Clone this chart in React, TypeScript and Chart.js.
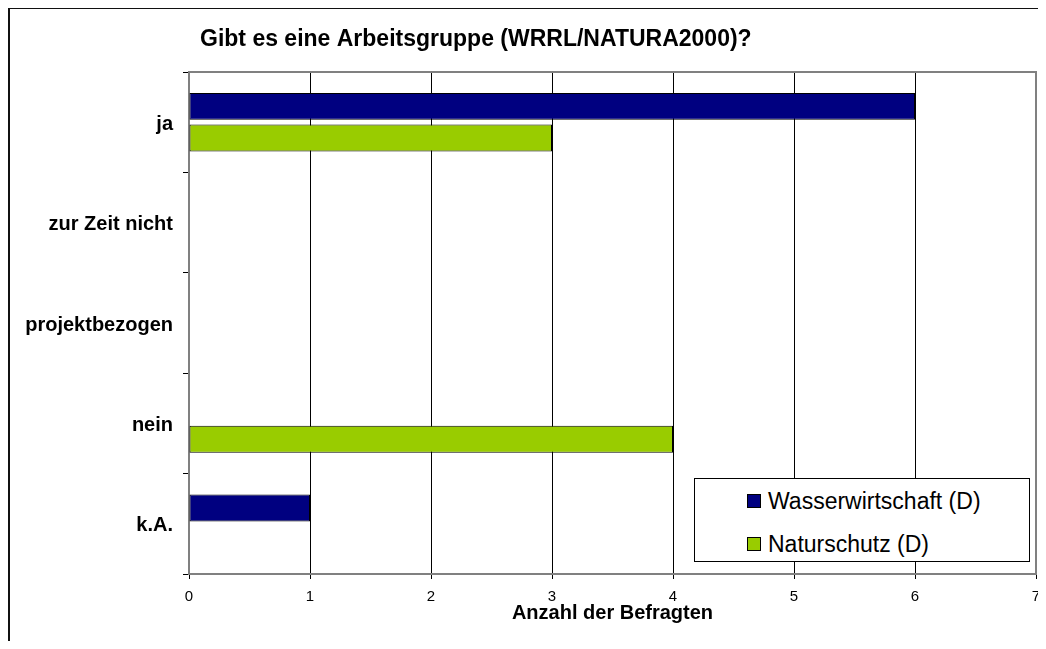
import React, { useEffect, useRef } from "react";
import { Chart, registerables } from "chart.js";

Chart.register(...registerables);

const TITLE = "Gibt es eine Arbeitsgruppe (WRRL/NATURA2000)?";
const X_TITLE = "Anzahl der Befragten";
const CATEGORIES = ["ja", "zur Zeit nicht", "projektbezogen", "nein", "k.A."];
const SERIES_NAMES = ["Wasserwirtschaft (D)", "Naturschutz (D)"];
const WASSER = [6, 0, 0, 0, 1];
const NATUR = [3, 0, 0, 4, 0];
const COLORS = ["#000080", "#99CC00"];
const X_MIN = 0;
const X_MAX = 7;

const FONT = '"Liberation Sans", Arial, sans-serif';

const W = 1046;
const H = 649;

const frame = {
  id: "frame",
  afterDatasetsDraw(chart: any) {
    const { ctx, chartArea } = chart;
    ctx.save();
    ctx.strokeStyle = "#808080";
    ctx.lineWidth = 2;
    ctx.beginPath();
    ctx.moveTo(chartArea.left, chartArea.top);
    ctx.lineTo(chartArea.right, chartArea.top);
    ctx.lineTo(chartArea.right, chartArea.bottom);
    ctx.stroke();
    ctx.restore();
  },
  afterDraw(chart: any) {
    const { ctx } = chart;
    ctx.save();
    ctx.fillStyle = "#000";
    ctx.font = `bold 23px ${FONT}`;
    ctx.textBaseline = "alphabetic";
    ctx.textAlign = "left";
    ctx.fillText(TITLE, 200, 46);
    ctx.restore();
  },
};

export default function App() {
  const ref = useRef<HTMLCanvasElement | null>(null);

  useEffect(() => {
    if (!ref.current) return;
    const barOpts = {
      borderColor: "#000",
      borderWidth: (c: any) => (c.raw ? 1 : 0),
      borderSkipped: false,
      categoryPercentage: 0.63,
      barPercentage: 0.85,
    };
    const chart = new Chart(ref.current, {
      type: "bar",
      data: {
        labels: CATEGORIES,
        datasets: [
          { label: SERIES_NAMES[0], data: WASSER, backgroundColor: COLORS[0], ...barOpts },
          { label: SERIES_NAMES[1], data: NATUR, backgroundColor: COLORS[1], ...barOpts },
        ],
      },
      options: {
        indexAxis: "y",
        responsive: false,
        animation: false,
        layout: { padding: { top: 72, right: 10, left: 0, bottom: 0 } },
        plugins: {
          legend: { display: false },
          title: { display: false },
          tooltip: { enabled: false },
        },
        scales: {
          x: {
            min: X_MIN,
            max: X_MAX,
            afterFit: (s: any) => {
              s.height = 75;
              s.paddingLeft = 0;
              s.paddingRight = 0;
            },
            ticks: {
              stepSize: 1,
              color: "#000",
              font: { family: FONT, size: 15 },
              padding: 9,
            },
            grid: {
              color: "#000",
              lineWidth: 1,
              drawTicks: true,
              tickLength: 5,
              tickColor: "#000",
            },
            border: { display: true, color: "#808080", width: 2 },
            title: {
              display: true,
              text: X_TITLE,
              color: "#000",
              font: { family: FONT, size: 20, weight: "bold" },
              padding: { top: 0, bottom: 24 },
            },
          },
          y: {
            afterFit: (s: any) => {
              s.width = 189;
              s.paddingTop = 0;
              s.paddingBottom = 0;
            },
            ticks: {
              color: "#000",
              font: { family: FONT, size: 20, weight: "bold" },
              padding: 10,
              labelOffset: 2,
            },
            grid: {
              offset: true,
              drawOnChartArea: false,
              drawTicks: true,
              tickLength: 6,
              color: "#000",
            },
            border: { display: true, color: "#808080", width: 2 },
          },
        },
      },
      plugins: [frame],
    });
    return () => chart.destroy();
  }, []);

  const legendRows = SERIES_NAMES.map((name, i) => (
    <div key={name}>
      <div
        style={{
          position: "absolute",
          left: 52,
          top: 15 + i * 43,
          width: 14,
          height: 14,
          boxSizing: "border-box",
          border: "1px solid #000",
          background: COLORS[i],
        }}
      />
      <div
        style={{
          position: "absolute",
          left: 73,
          top: 8 + i * 43,
          height: 28,
          lineHeight: "28px",
          fontFamily: FONT,
          fontSize: 23,
          color: "#000",
          whiteSpace: "nowrap",
        }}
      >
        {name}
      </div>
    </div>
  ));

  return (
    <div
      style={{
        position: "relative",
        width: W,
        height: H,
        margin: -8,
        overflow: "hidden",
      }}
    >
      <canvas
        ref={ref}
        width={W}
        height={H}
        style={{ position: "absolute", left: 0, top: 0, width: W, height: H, display: "block" }}
      />
      <div
        style={{
          position: "absolute",
          left: 8,
          top: 7,
          width: W - 8,
          height: H - 7,
          boxSizing: "border-box",
          borderTop: "2px solid #111",
          borderLeft: "2px solid #111",
          pointerEvents: "none",
        }}
      />
      <div
        style={{
          position: "absolute",
          left: 694,
          top: 478,
          width: 336,
          height: 84,
          boxSizing: "border-box",
          border: "1px solid #000",
          background: "#fff",
        }}
      >
        {legendRows}
      </div>
    </div>
  );
}
